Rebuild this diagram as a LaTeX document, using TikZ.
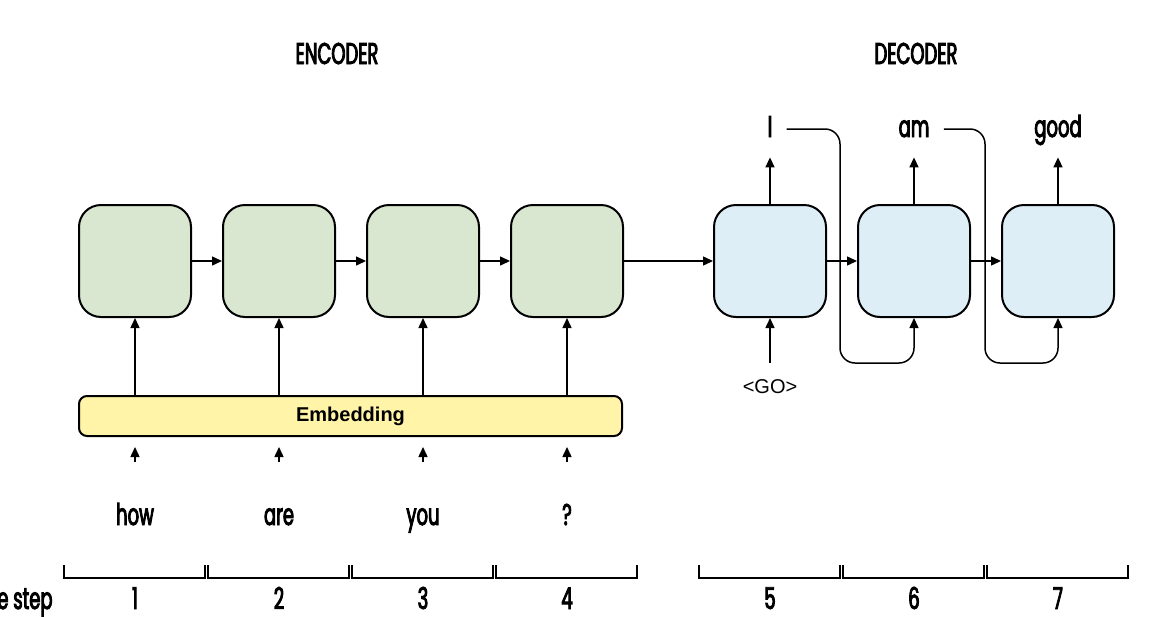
\documentclass[tikz,border=0pt]{standalone}
\usepackage{fontspec}
\newfontfamily\headfont[FakeStretch=0.6, FakeBold=3]{Poppins}
\newfontfamily\boxfont{Liberation Sans}
\usepackage{tikz}
\usetikzlibrary{positioning, arrows.meta}

\definecolor{encfill}{HTML}{D9E6D0}
\definecolor{decfill}{HTML}{DDEEF7}
\definecolor{embfill}{HTML}{FFF4A8}

\begin{document}
\begin{tikzpicture}[
        x=0.5pt, y=-0.5pt,
        node distance=72pt,
        on grid,
        >={Triangle[length=5pt, width=4.5pt]},
        link/.style={->, line width=0.75pt},
        cell/.style={draw, line width=1pt, rounded corners=11pt, minimum size=56pt},
        enc/.style={cell, fill=encfill},
        dec/.style={cell, fill=decfill},
        embed/.style={draw, line width=1pt, rounded corners=4pt, fill=embfill,
          minimum width=271.5pt, minimum height=20pt,
          font=\boxfont\bfseries\fontsize{10}{12}\selectfont},
        word/.style={inner sep=0pt, text height=10pt, text depth=3pt, anchor=base,
          font=\headfont\fontsize{15}{15}\selectfont},
        go/.style={inner sep=0pt, text height=8pt, text depth=2pt, anchor=base,
          font=\boxfont\fontsize{10}{12}\selectfont},
      ]

      \useasboundingbox (0,0) rectangle (1173,616);

      % Titel
      \node[word] (enc) at (337,64) {ENCODER};
      \node[word] (dec) at (916,64) {DECODER};

      % Encoder
      \node[enc] (e1) at (135,261) {};
      \node[enc, right=of e1] (e2) {};
      \node[enc, right=of e2] (e3) {};
      \node[enc, right=of e3] (e4) {};
      \node[embed] (emb) at (350.5,416) {Embedding};

      % Decoder
      \node[dec, right=101.5pt of e4] (d1) {};
      \node[dec, right=of d1] (d2) {};
      \node[dec, right=of d2] (d3) {};

      % Eingaben und Ausgaben
      \node[word] (w1) at (e1 |- 0,525) {how};
      \node[word] (w2) at (e2 |- 0,525) {are};
      \node[word] (w3) at (e3 |- 0,525) {you};
      \node[word] (w4) at (e4 |- 0,525) {?};
      \node[go] (go) at (d1 |- 0,393) {<GO>};
      \node[word] (o1) at (d1 |- 0,137) {I};
      \node[word] (o2) at (d2 |- 0,137) {am};
      \node[word] (o3) at (d3 |- 0,137) {good};

      % Verbindungen
      \foreach \i in {1,...,4} {
        \draw[link, shorten <=21.5pt, shorten >=5pt] (w\i.north) -- (w\i |- emb.south);
        \draw[link] (e\i |- emb.north) -- (e\i.south);
      }
      \draw[link] (e1) -- (e2);
      \draw[link] (e2) -- (e3);
      \draw[link] (e3) -- (e4);
      \draw[link] (e4) -- (d1);
      \draw[link] (d1) -- (d2);
      \draw[link] (d2) -- (d3);
      \draw[link, shorten <=7pt] (go.north) -- (d1.south);
      \foreach \i in {1,2,3}
        \draw[link, shorten >=7pt] (d\i.north) -- (o\i.south);
      \draw[link, rounded corners=7.5pt] ([xshift=7pt]o1.east |- 0,129) -- (840,129)
        -- (840,363) -- (d2 |- 0,363) -- (d2.south);
      \draw[link, rounded corners=7.5pt] ([xshift=7pt]o2.east |- 0,129) -- (985,129)
        -- (985,363) -- (d3 |- 0,363) -- (d3.south);

      % Zeitschritte
      \node[word, text depth=0pt, anchor=base east] (ts) at (53,609) {Time step};
      \foreach \n/\x in {1/135, 2/279, 3/423, 4/567, 5/770, 6/914, 7/1058} {
        \node[word, text depth=0pt] (t\n) at (\x,609) {\n};
        \draw[line width=0.75pt] (\x-71,565) -- (\x-71,578) -- (\x+70,578) -- (\x+70,565);
      }

    \end{tikzpicture}
\end{document}
